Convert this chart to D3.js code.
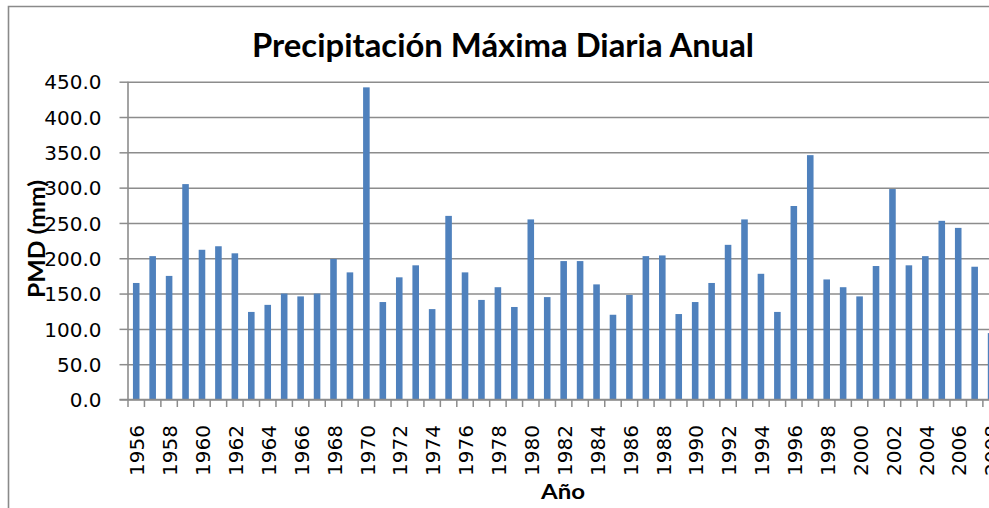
<!DOCTYPE html>
<html>
<head>
<meta charset="utf-8">
<script src="https://cdn.jsdelivr.net/npm/d3@7"></script>
<style>
  html, body { margin: 0; padding: 0; background: #fff; overflow: hidden; }
  svg { display: block; }
</style>
</head>
<body>
<svg id="chart" width="989" height="508"></svg>
<script>
const titleText = "Precipitación Máxima Diaria Anual";
const yAxisTitle = "PMD (mm)";
const xAxisTitle = "Año";

const years = [
  "1956","1957","1958","1959","1960","1961","1962","1963","1964","1965",
  "1966","1967","1968","1969","1970","1971","1972","1973","1974","1975",
  "1976","1977","1978","1979","1980","1981","1982","1983","1984","1985",
  "1986","1987","1988","1989","1990","1991","1992","1993","1994","1995",
  "1996","1997","1998","1999","2000","2001","2002","2003","2004","2005",
  "2006","2007","2008"
];
const pmd = [
  165, 203, 175, 305, 212, 217, 207, 124, 134, 150,
  146, 150, 199, 180, 442, 138, 173, 190, 128, 260,
  180, 141, 159, 131, 255, 145, 196, 196, 163, 120,
  148, 203, 204, 121, 138, 165, 219, 255, 178, 124,
  274, 346, 170, 159, 146, 189, 298, 190, 203, 253,
  243, 188, 94
];
const yTicks = [0, 50, 100, 150, 200, 250, 300, 350, 400, 450];
const xLabelYears = ["1956","1958","1960","1962","1964","1966","1968","1970","1972","1974",
  "1976","1978","1980","1982","1984","1986","1988","1990","1992","1994","1996","1998",
  "2000","2002","2004","2006","2008"];

const svg = d3.select("#chart");
const plotLeft = 128, step = 16.44;
const plotRight = plotLeft + step * years.length;
const plotTop = 81.7, plotBottom = 399.5;

const x = d3.scaleBand().domain(years).range([plotLeft, plotRight]).padding(0);
const y = d3.scaleLinear().domain([0, 450]).range([plotBottom, plotTop]);

// outer chart frame (left and top edges visible in the crop)
svg.append("path")
  .attr("d", "M8.5,520 L8.5,6.5 L1000,6.5")
  .attr("fill", "none").attr("stroke", "#8a8a8a").attr("stroke-width", 1.6);

// gridlines + y ticks
const yAxis = d3.axisLeft(y).tickValues(yTicks).tickSize(-(plotRight - plotLeft)).tickPadding(0)
  .tickFormat(d3.format(".1f"));
const gy = svg.append("g").attr("transform", `translate(${plotLeft},0)`).call(yAxis);
gy.select(".domain").remove();
gy.selectAll(".tick line").attr("stroke", "#8c8c8c").attr("stroke-width", 1.5);
gy.selectAll(".tick").append("line")
  .attr("x1", -8.5).attr("x2", 0).attr("stroke", "#8c8c8c").attr("stroke-width", 1.5);
gy.selectAll(".tick text")
  .attr("x", -26.5)
  .attr("dy", "0.36em")
  .attr("fill", "#000")
  .style("font-family", "'DejaVu Sans', sans-serif")
  .style("font-size", "20px");

// bars
svg.append("g").selectAll("rect").data(years).join("rect")
  .attr("x", (d) => x(d) + x.bandwidth() * 0.3)
  .attr("width", x.bandwidth() * 0.4)
  .attr("y", (d, i) => y(pmd[i]))
  .attr("height", (d, i) => y(0) - y(pmd[i]))
  .attr("fill", "#4F81BD");

// x axis
const xAxis = d3.axisBottom(x).tickValues([]).tickSize(0);
const gx = svg.append("g").attr("transform", `translate(0,${plotBottom})`).call(xAxis);
gx.select(".domain").remove();
gx.append("line").attr("x1", plotLeft - 8.5).attr("x2", plotRight)
  .attr("stroke", "#8c8c8c").attr("stroke-width", 1.6);
gx.selectAll("line.tk").data(years.concat(["__end"])).join("line")
  .attr("class", "tk")
  .attr("x1", (d, i) => i < years.length ? x(d) : plotRight)
  .attr("x2", (d, i) => i < years.length ? x(d) : plotRight)
  .attr("y1", 0).attr("y2", 7.5)
  .attr("stroke", "#8c8c8c").attr("stroke-width", 1.5);
// y axis line
svg.append("line").attr("x1", plotLeft).attr("x2", plotLeft)
  .attr("y1", plotTop).attr("y2", plotBottom)
  .attr("stroke", "#8c8c8c").attr("stroke-width", 1.6);

// x tick labels (rotated)
svg.append("g").selectAll("text").data(xLabelYears).join("text")
  .attr("transform", (d) => `translate(${x(d) + x.bandwidth() / 2 + 1},425) rotate(-90)`)
  .attr("text-anchor", "end")
  .attr("dy", "0.36em")
  .style("font-family", "'DejaVu Sans', sans-serif")
  .style("font-size", "20px")
  .attr("fill", "#000")
  .text((d) => d);

// title
svg.append("text")
  .attr("x", 503).attr("y", 56.7)
  .attr("text-anchor", "middle")
  .style("font-family", "Lato, 'Open Sans', sans-serif")
  .style("font-weight", "bold")
  .style("font-size", "32.5px")
  .attr("textLength", 502).attr("lengthAdjust", "spacingAndGlyphs")
  .text(titleText);

// y title
svg.append("text")
  .attr("transform", "translate(45,239) rotate(-90)")
  .attr("text-anchor", "middle")
  .style("font-family", "Lato, 'Open Sans', sans-serif")
  .style("font-weight", "bold")
  .style("font-size", "22.5px")
  .attr("textLength", 118).attr("lengthAdjust", "spacingAndGlyphs")
  .text(yAxisTitle);

// x title
svg.append("text")
  .attr("x", 563).attr("y", 499)
  .attr("text-anchor", "middle")
  .style("font-family", "Lato, 'Open Sans', sans-serif")
  .style("font-weight", "bold")
  .style("font-size", "21px")
  .attr("textLength", 44).attr("lengthAdjust", "spacingAndGlyphs")
  .text(xAxisTitle);
</script>
</body>
</html>
